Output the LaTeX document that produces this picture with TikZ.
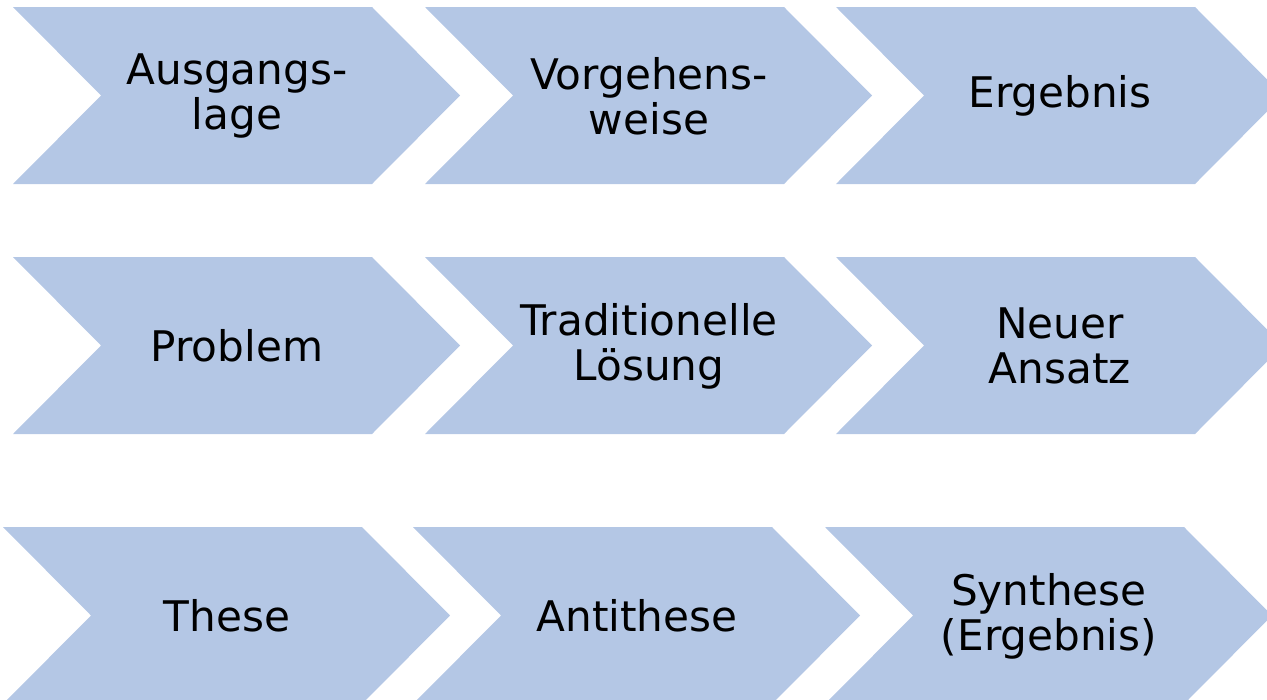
\documentclass[tikz,border=0pt]{standalone}
\usepackage{fontspec}
\setmainfont{DejaVu Sans}
\usepackage{tikz}
\usepackage{xcolor}
\definecolor{chevronblue}{HTML}{B4C7E5}
\tikzset{
    chevron-shape/.style = {fill=chevronblue, draw=none},
    chevron-text/.style = {align=center, text=black, font=\fontsize{36}{38.5}\selectfont, inner sep=0pt},
}
% #1 name, #2 left x, #3 top y, #4 text
\newcommand{\chevronstep}[4]{%
    \fill[chevron-shape] (#2,#3) -- ++(359,0) -- ++(88,88.5) -- ++(-88,88.5) -- ++(-359,0) -- ++(88,-88.5) -- cycle;
    \node[chevron-text] (#1) at (#2+224,#3+89) {#4};
}

\begin{document}
\begin{tikzpicture}[x=0.03cm, y=-0.03cm]
\useasboundingbox (0,0) rectangle (1267,699);

% first row
\chevronstep{ausgang}{13}{7}{Ausgangs-\\lage}
\chevronstep{vorgehen}{425}{7}{Vorgehens-\\weise}
\chevronstep{ergebnis}{836}{7}{Ergebnis}

% second row
\chevronstep{problem}{13}{257}{Problem}
\chevronstep{tradition}{425}{257}{Traditionelle\\Lösung}
\chevronstep{ansatz}{836}{257}{Neuer\\Ansatz}

% third row
\chevronstep{these}{3}{527}{These}
\chevronstep{antithese}{413}{527}{Antithese}
\chevronstep{synthese}{825}{527}{Synthese\\(Ergebnis)}
\end{tikzpicture}
\end{document}
